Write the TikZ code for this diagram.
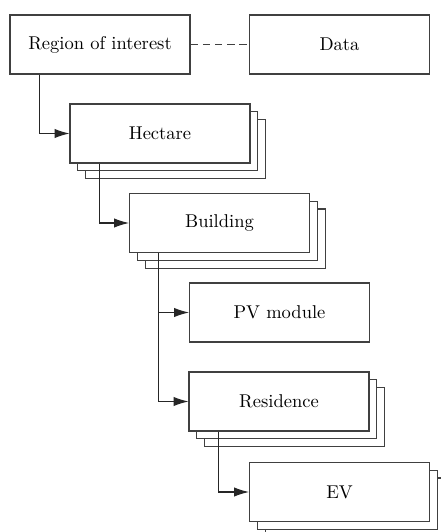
\documentclass[tikz,border=0pt]{standalone}
\usetikzlibrary{arrows.meta,shadows}
\begin{document}
\begin{tikzpicture}[x=0.54pt,y=-0.54pt,
  box/.style={draw=black!75,fill=white,line width=0.6pt,minimum width=97.2pt,
    minimum height=31.9pt,inner sep=0pt,font=\normalsize},
  stack/.style={box,double copy shadow={shadow xshift=4.2pt,shadow yshift=-4.2pt,
    draw=black!75,fill=white,line width=0.6pt}},
  conn/.style={draw=black!85,line width=0.55pt,-{Latex[length=8pt,width=5pt]}}]
\useasboundingbox (0,0) rectangle (440,532);

\node[box]   (roi)   at (100,44.5)   {Region of interest};
\node[box]   (data)  at (339.5,44.5) {Data};
\node[stack] (hect)  at (160,133.5)  {Hectare};
\node[stack] (build) at (219.5,223)  {Building};
\node[box]   (pv)    at (279.5,312.5){PV module};
\node[stack] (res)   at (279,401.5)  {Residence};
\node[stack] (ev)    at (339.5,492)  {EV};

\draw[black!75,line width=0.6pt,dash pattern=on 4pt off 2.6pt] (roi) -- (data);

\draw[conn] ([xshift=16.2pt]roi.south west)   |- (hect.west);
\draw[conn] ([xshift=16.2pt]hect.south west)  |- (build.west);
\draw[conn] ([xshift=16.2pt]build.south west) |- (pv.west);
\draw[conn] ([xshift=16.2pt]build.south west) |- (res.west);
\draw[conn] ([xshift=16.2pt]res.south west)   |- (ev.west);
\end{tikzpicture}
\end{document}
